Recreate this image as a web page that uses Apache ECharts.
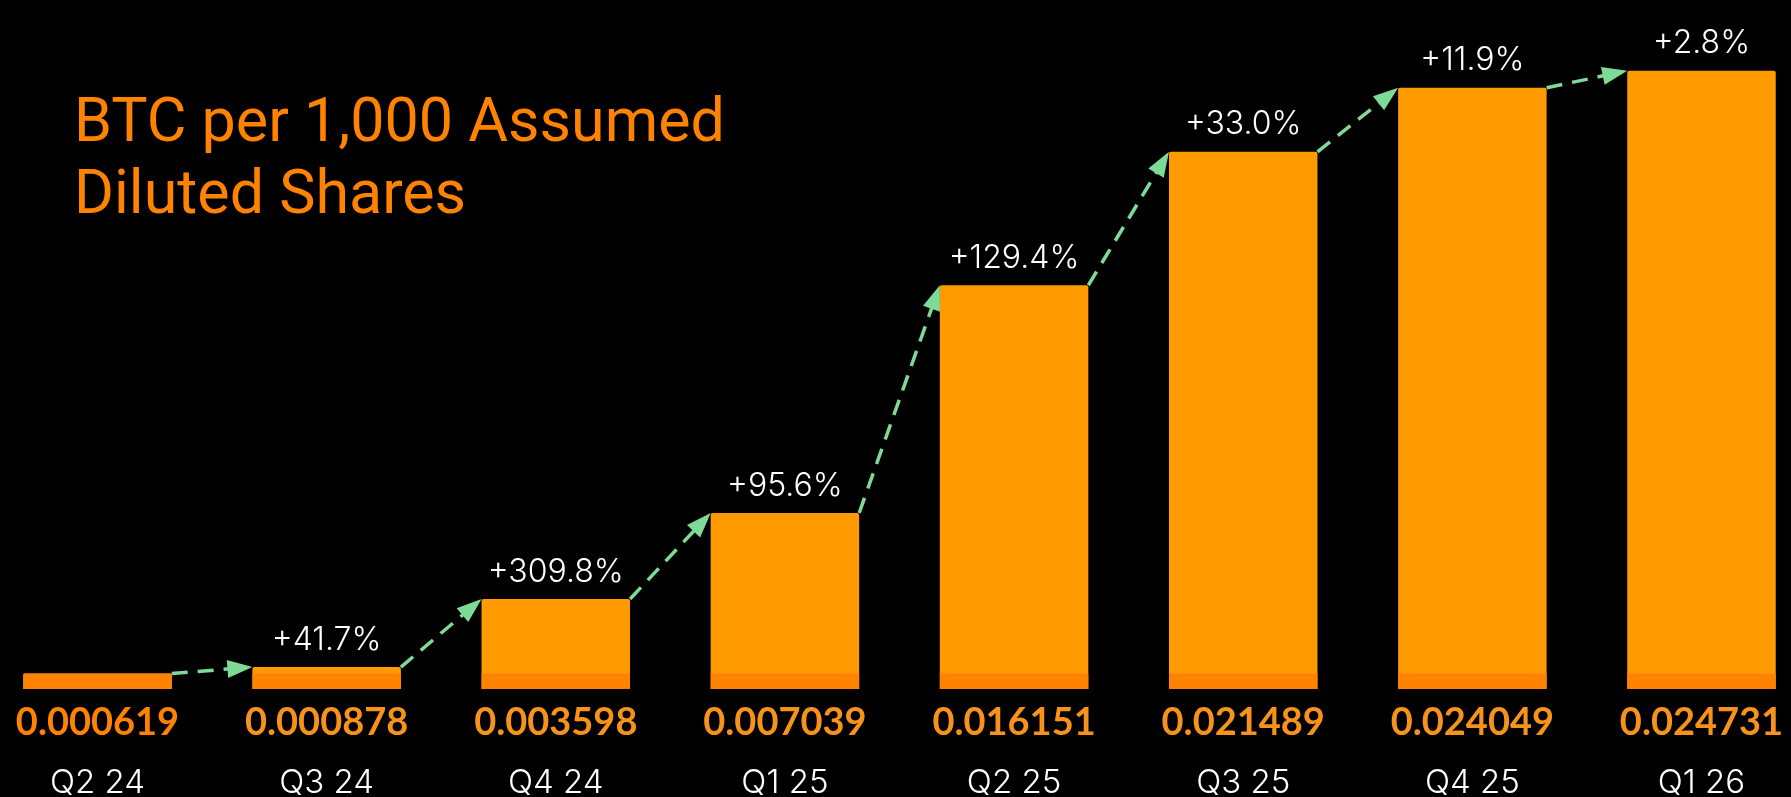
<!DOCTYPE html>
<html>
<head>
<meta charset="utf-8">
<script src="https://cdn.jsdelivr.net/npm/echarts@6/dist/echarts.min.js"></script>
<style>
  html, body { margin: 0; padding: 0; background: #000; }
  #chart { width: 1791px; height: 797px; }
</style>
</head>
<body>
<div id="chart"></div>
<script>
const categories = ['Q2 24', 'Q3 24', 'Q4 24', 'Q1 25', 'Q2 25', 'Q3 25', 'Q4 25', 'Q1 26'];
const values = [0.000619, 0.000878, 0.003598, 0.007039, 0.016151, 0.021489, 0.024049, 0.024731];
const valueLabels = ['0.000619', '0.000878', '0.003598', '0.007039', '0.016151', '0.021489', '0.024049', '0.024731'];
const pctLabels = ['', '+41.7%', '+309.8%', '+95.6%', '+129.4%', '+33.0%', '+11.9%', '+2.8%'];
const bandValues = [0.000619, 0.000619, 0.000619, 0.000619, 0.000619, 0.000619, 0.000619, 0.000619];

const BAR_RATIO = 0.648;
const arrowData = [];
for (let i = 0; i < values.length - 1; i++) {
  arrowData.push([i, values[i], values[i + 1]]);
}

const chart = echarts.init(document.getElementById('chart'));
chart.setOption({
  backgroundColor: '#000000',
  animation: false,
  title: {
    text: 'BTC per 1,000 Assumed\nDiluted Shares',
    left: 69,
    top: 85,
    textStyle: {
      color: '#FF8200',
      fontFamily: 'Roboto',
      fontWeight: 'normal',
      fontSize: 61,
      lineHeight: 72
    }
  },
  grid: { left: 97.5, right: 89.5, top: 64, bottom: 108, containLabel: false, outerBoundsMode: 'none' },
  xAxis: {
    type: 'category',
    data: categories,
    boundaryGap: false,
    axisLine: { show: false },
    axisTick: { show: false },
    splitLine: { show: false },
    axisLabel: {
      interval: 0,
      margin: 9,
      formatter: function (value, index) {
        const key = index === 0 ? 'v0' : 'v';
        return '{' + key + '|' + valueLabels[index] + '}\n{q|' + value + '}';
      },
      rich: {
        v0: { fontFamily: 'Lato', fontWeight: 'bold', fontSize: 38, color: '#FF8200', lineHeight: 50 },
        v: { fontFamily: 'Lato', fontWeight: 'bold', fontSize: 38, color: '#F7931A', lineHeight: 50 },
        q: { fontFamily: 'Inter', fontWeight: 300, fontSize: 33, color: '#FFFFFF', lineHeight: 70 }
      }
    }
  },
  yAxis: {
    type: 'value',
    min: 0,
    max: 0.025,
    show: false,
    splitLine: { show: false }
  },
  series: [
    {
      type: 'bar',
      data: values,
      clip: false,
      barWidth: (BAR_RATIO * 100) + '%',
      itemStyle: { color: '#FF9A00', borderRadius: [2, 2, 0, 0] },
      label: {
        show: true,
        position: 'top',
        distance: 11,
        formatter: function (p) { return pctLabels[p.dataIndex]; },
        color: '#FFFFFF',
        fontFamily: 'Inter',
        fontWeight: 300,
        fontSize: 32
      },
      z: 2
    },
    {
      type: 'bar',
      data: bandValues,
      clip: false,
      barWidth: (BAR_RATIO * 100) + '%',
      barGap: '-100%',
      itemStyle: { color: '#FF8200' },
      z: 3
    },
    {
      type: 'custom',
      data: arrowData,
      clip: false,
      z: 5,
      renderItem: function (params, api) {
        const i = api.value(0);
        const p0 = api.coord([i, api.value(1)]);
        const p1 = api.coord([i + 1, api.value(2)]);
        const halfW = api.size([1, 0])[0] * BAR_RATIO / 2;
        const sx = p0[0] + halfW, sy = p0[1];
        const ex = p1[0] - halfW, ey = p1[1];
        const dx = ex - sx, dy = ey - sy;
        const len = Math.sqrt(dx * dx + dy * dy);
        const ux = dx / len, uy = dy / len;
        const px = -uy, py = ux;
        const headLen = 25, headHalf = 9;
        const bx = ex - ux * headLen, by = ey - uy * headLen;
        return {
          type: 'group',
          children: [
            {
              type: 'line',
              shape: { x1: sx, y1: sy, x2: bx + ux * 3, y2: by + uy * 3 },
              style: { stroke: '#7FDA97', lineWidth: 3.5, lineDash: [16, 10] }
            },
            {
              type: 'polygon',
              shape: { points: [[ex, ey], [bx + px * headHalf, by + py * headHalf], [bx - px * headHalf, by - py * headHalf]] },
              style: { fill: '#7FDA97' }
            }
          ]
        };
      }
    }
  ]
});
</script>
</body>
</html>
